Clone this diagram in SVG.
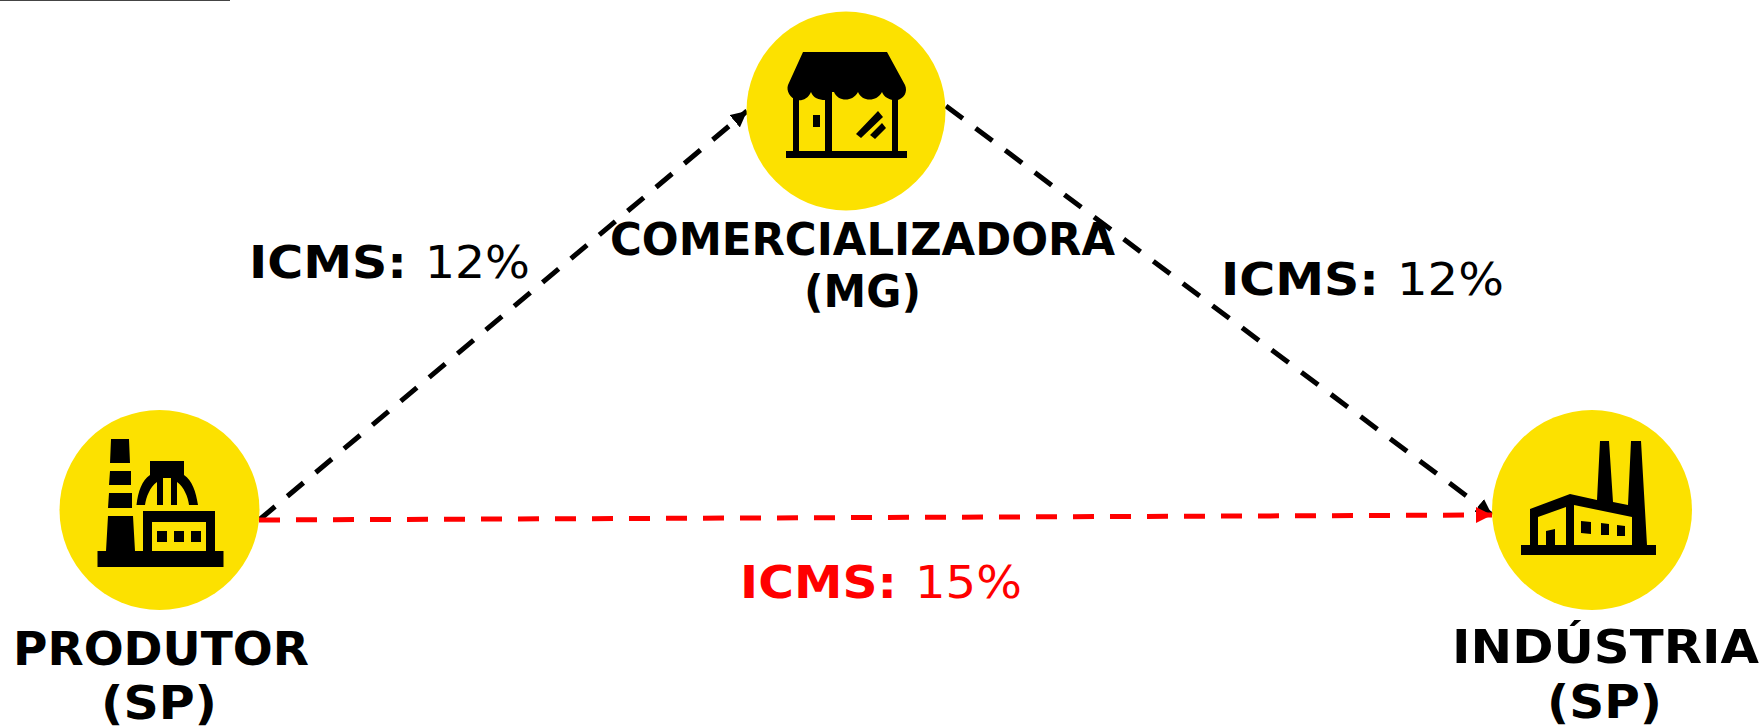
<svg xmlns="http://www.w3.org/2000/svg" width="1762" height="728" viewBox="0 0 1762 728">
<style>
.c{fill:#fce100}
.t{font-family:"DejaVu Sans",Verdana,sans-serif;font-size:45px}
.n{font-size:47px;font-weight:700}
.m{font-size:44px;font-weight:700}
.b{font-weight:700}
.k{fill:#000}
.d{fill:none;stroke-width:5;stroke-dasharray:21 16}
</style>
<defs>
<marker id="ak" markerUnits="userSpaceOnUse" markerWidth="18" markerHeight="18" refX="16" refY="8" orient="auto"><path d="M0 0L16 8L0 16Z" fill="#000"/></marker>
<marker id="ar" markerUnits="userSpaceOnUse" markerWidth="18" markerHeight="18" refX="16" refY="8" orient="auto"><path d="M0 0L16 8L0 16Z" fill="#f00"/></marker>
</defs>
<rect x="0" y="0" width="230" height="1" fill="#444"/>
<g id="connectors">
<path class="d" stroke="#000" d="M259 520L747 111" marker-end="url(#ak)"/>
<path class="d" stroke="#000" d="M946 106L1492 515" marker-end="url(#ak)"/>
<path class="d" stroke="#f00" d="M259 520L1492 515" marker-end="url(#ar)"/>
</g>
<g id="produtor">
<circle class="c" cx="159.5" cy="510" r="100"/>
<path class="k" d="M111 439H129L130 463H110ZM110 471H131V485H109ZM109 493H132V508H108ZM108 516H133L135 551H143V511H215V551H223.5V567H97.5V551H106Z"/>
<path class="k" d="M150 461H184V475C192 480 196 492 198 505H189C188 497 184 487 177 482V505H171V478H163V505H157V482C150 487 146 497 145 505H136.5C138 492 142 480 150 475Z"/>
<path class="c" d="M152 522H206V551H152Z"/>
<path class="k" d="M157 531H167V542H157ZM174 531H184V542H174ZM191 531H201V542H191Z"/>
</g>
<g id="comercializadora">
<circle class="c" cx="846" cy="111" r="99.5"/>
<path class="k" d="M803 52H887L905 85C908 92 904 98 898 100C892 101 884 98 882 92C877 102 862 102 858 92C853 102 838 102 834 92H832V100H825C819 100 813 98 811 92C808 99 802 101 797 100C790 98 786 91 788 85Z"/>
<path class="k" d="M793 97H799V151H793ZM825 94H832V151H825ZM892 97H898V151H892ZM786 151H907V158H786Z"/>
<path class="k" d="M813 115H820V127H813ZM856 134L878 111L883 117L861 138ZM870 135L882 123L886 128L875 139Z"/>
</g>
<g id="industria">
<circle class="c" cx="1592" cy="510" r="100"/>
<path class="k" fill-rule="evenodd" d="M1530 509L1570 494L1597 500L1600 441H1609L1613 502L1628 505L1631 441H1641L1647 545H1656V555H1521V545H1530ZM1538 545H1566V507L1538 517ZM1574 505V545H1632V517Z"/>
<path class="k" d="M1546 531L1555 529V545H1546ZM1581 521L1591 522V534L1581 533ZM1601 523L1609 524V535L1601 535ZM1617 525L1625 526V536L1617 536Z"/>
</g>
<g id="labels">
<text class="t n" x="13" y="665" textLength="296" lengthAdjust="spacingAndGlyphs">PRODUTOR</text>
<text class="t n" x="101" y="719" textLength="116" lengthAdjust="spacingAndGlyphs">(SP)</text>
<text class="t m" x="610" y="255" textLength="505" lengthAdjust="spacingAndGlyphs">COMERCIALIZADORA</text>
<text class="t m" x="804" y="307" textLength="117" lengthAdjust="spacingAndGlyphs">(MG)</text>
<text class="t n" x="1452" y="663" textLength="307" lengthAdjust="spacingAndGlyphs">INDÚSTRIA</text>
<text class="t n" x="1547" y="718" textLength="115" lengthAdjust="spacingAndGlyphs">(SP)</text>
<text class="t" y="278"><tspan class="b" x="249" textLength="158" lengthAdjust="spacingAndGlyphs">ICMS:</tspan> <tspan x="425" textLength="105" lengthAdjust="spacingAndGlyphs">12%</tspan></text>
<text class="t" y="295"><tspan class="b" x="1221" textLength="158" lengthAdjust="spacingAndGlyphs">ICMS:</tspan> <tspan x="1397" textLength="107" lengthAdjust="spacingAndGlyphs">12%</tspan></text>
<text class="t" y="598" fill="#f00"><tspan class="b" x="740" textLength="157" lengthAdjust="spacingAndGlyphs">ICMS:</tspan> <tspan x="915" textLength="107" lengthAdjust="spacingAndGlyphs">15%</tspan></text>
</g>
</svg>
